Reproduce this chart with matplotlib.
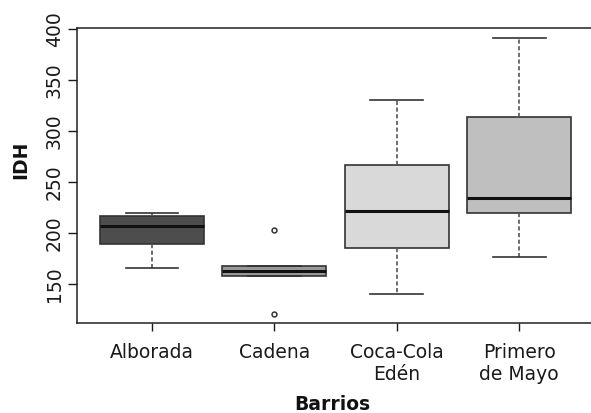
import matplotlib
matplotlib.use("Agg")
import matplotlib.pyplot as plt

plt.rcParams['font.family'] = ['DejaVu Sans']

categories = ["Alborada", "Cadena", "Coca-Cola\nEdén", "Primero\nde Mayo"]
whislo = [165.7, 157.5, 140.5, 176.5]
q1 = [189.0, 157.5, 185.0, 219.4]
med = [207.0, 163.0, 222.0, 234.0]
q3 = [216.7, 168.0, 266.8, 313.9]
whishi = [219.4, 168.0, 330.9, 391.2]
fliers = [[], [203.0, 120.5], [], []]
fill_colors = ["#4D4D4D", "#999999", "#D9D9D9", "#BFBFBF"]
yticks = [150, 200, 250, 300, 350, 400]

stats = []
for i, name in enumerate(categories):
    stats.append(dict(label=name, whislo=whislo[i], q1=q1[i], med=med[i],
                      q3=q3[i], whishi=whishi[i], fliers=fliers[i]))

fig = plt.figure(figsize=(5.91, 4.13), dpi=100)
W, H = 591, 413
ax = fig.add_axes([77 / W, (H - 323) / H, (594.2 - 77) / W, 295 / H])

edge = "#333333"
bp = ax.bxp(stats, positions=[1, 2, 3, 4], widths=0.85, patch_artist=True,
            boxprops=dict(edgecolor=edge, linewidth=1.2),
            whiskerprops=dict(color="#555555", linewidth=1.2, linestyle=(0, (2.5, 1.5))),
            capprops=dict(color="#333333", linewidth=1.2),
            medianprops=dict(color="#111111", linewidth=2.2),
            flierprops=dict(marker="o", markersize=3.5, markerfacecolor="none",
                            markeredgecolor="#333333", markeredgewidth=1.1),
            capwidths=0.43)
for patch, c in zip(bp["boxes"], fill_colors):
    patch.set_facecolor(c)

ax.set_xlim(0.388, 4.612)
ax.set_ylim(111.7, 401.3)
ax.set_yticks(yticks)
ax.set_yticklabels([str(v) for v in yticks], rotation=90, va="center")
ax.set_xticks([1, 2, 3, 4])
ax.set_xticklabels(categories, fontsize=13.5, color="#1a1a1a", linespacing=1.2)
ax.tick_params(axis="y", labelsize=13.5, length=6.5, width=1, pad=3, colors="#1a1a1a")
ax.tick_params(axis="x", length=6, width=1, pad=8.5, colors="#1a1a1a")

ax.spines["right"].set_visible(False)
for s in ["left", "top", "bottom"]:
    ax.spines[s].set_linewidth(1.1)
    ax.spines[s].set_color("#222222")

fig.text(21 / W, 1 - 160 / H, "IDH", rotation=90, ha="center", va="center",
         fontsize=13.5, fontweight="bold", color="#111111")
fig.text(332 / W, 1 - 404 / H, "Barrios", ha="center", va="center",
         fontsize=13.5, fontweight="bold", color="#111111")

fig.savefig("out.png", dpi=100)
